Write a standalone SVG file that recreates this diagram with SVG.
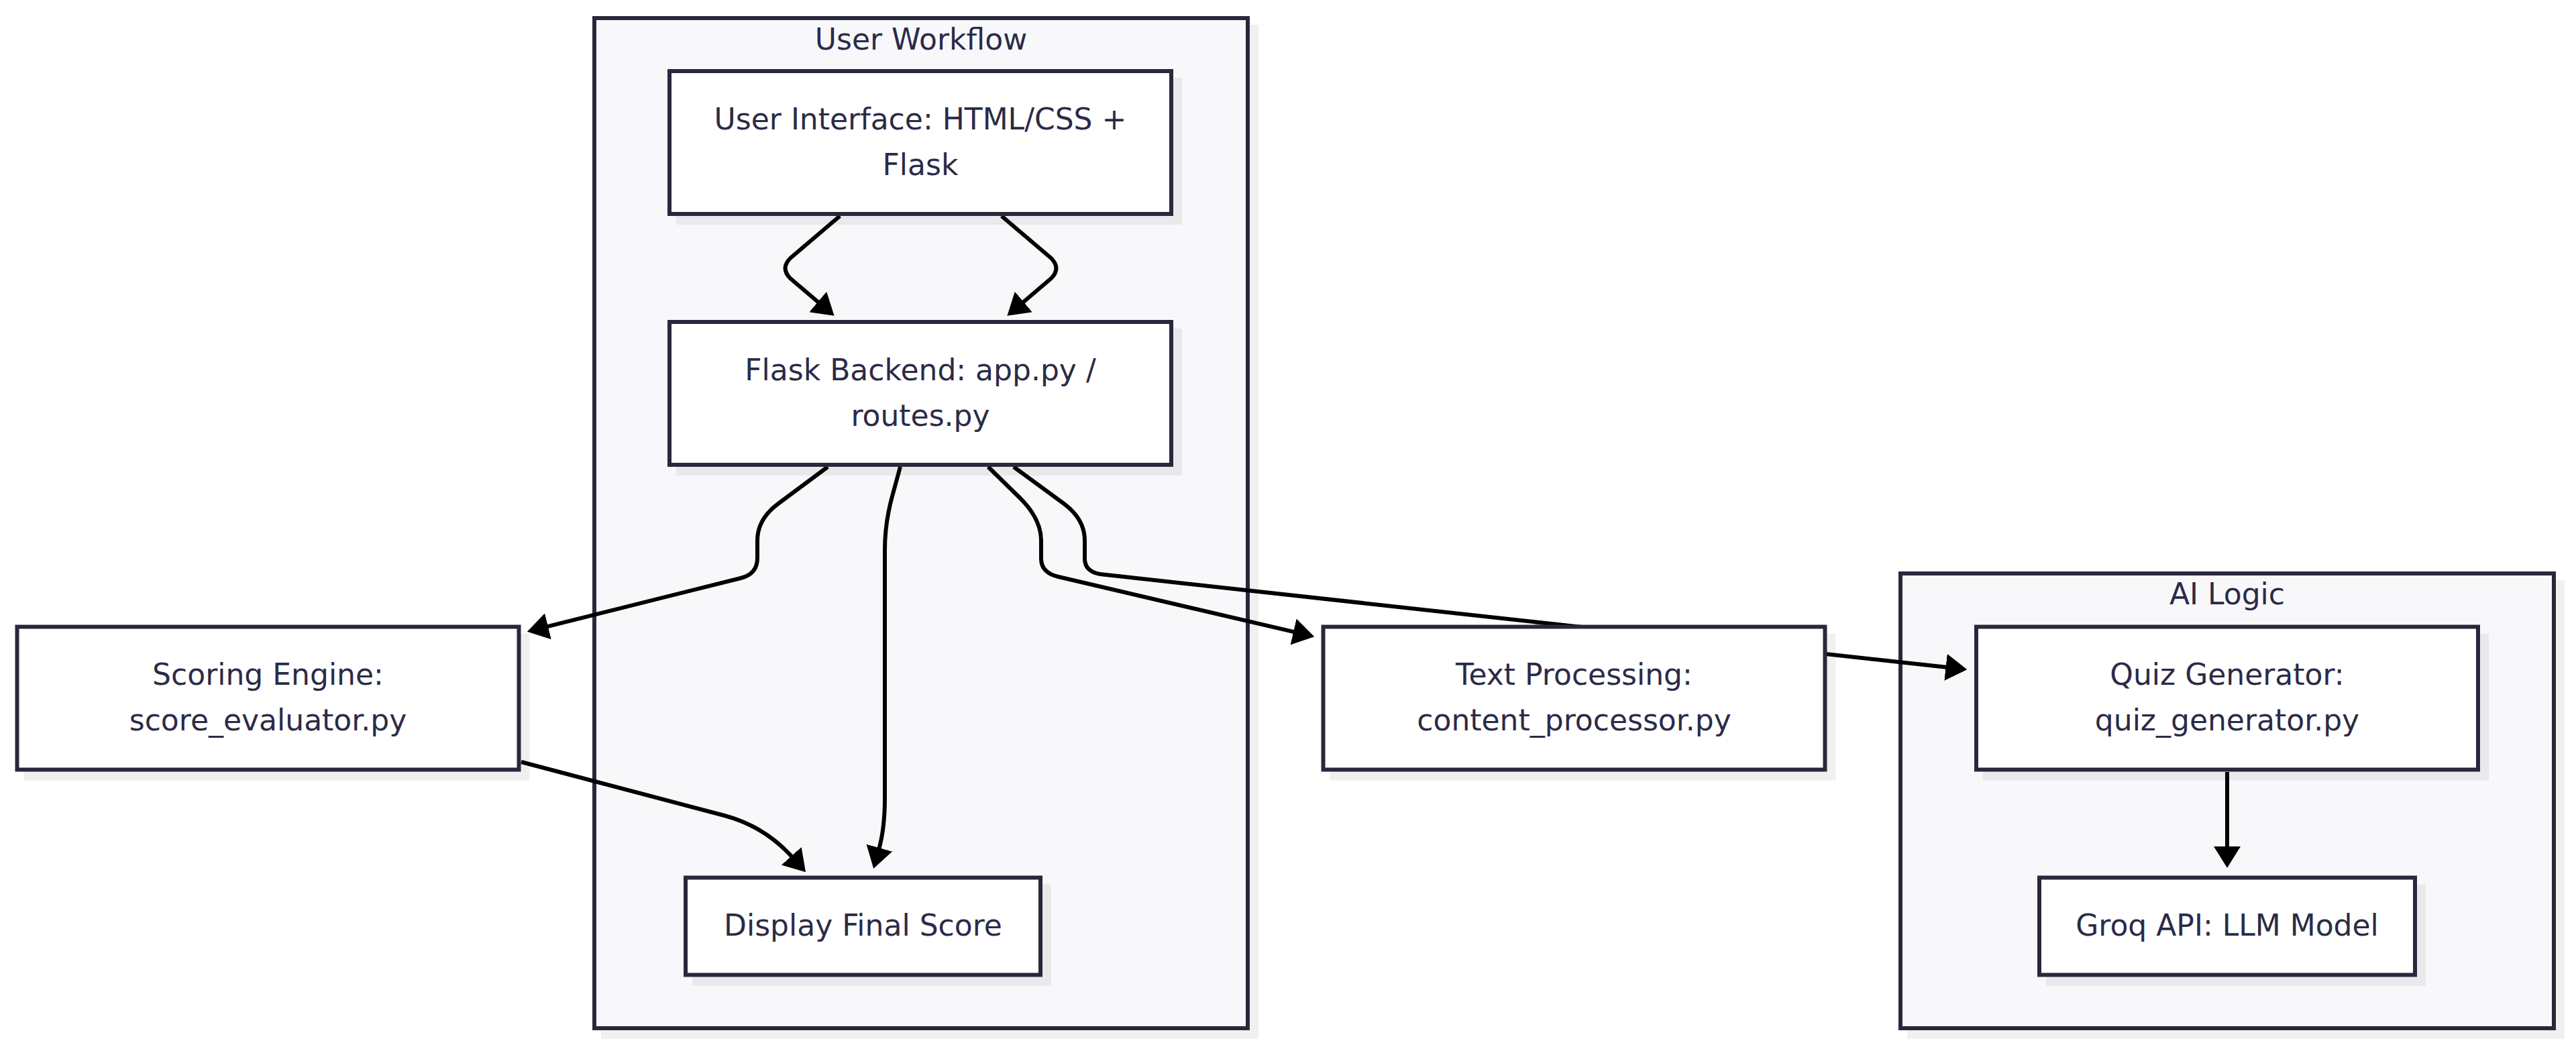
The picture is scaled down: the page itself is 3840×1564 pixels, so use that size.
<svg xmlns="http://www.w3.org/2000/svg" width="3840" height="1564" viewBox="0 0 3840 1564">
<style>
.bg{fill:#ffffff}
.cluster{fill:#f8f8fb;stroke:#28283d;stroke-width:6}
.node{fill:#ffffff;stroke:#28283d;stroke-width:6}
.shadow{fill:#000000;fill-opacity:0.06}
.lbl{font-family:"DejaVu Sans",sans-serif;font-size:44px;fill:#2b2b47;text-anchor:middle}
.edge{fill:none;stroke:#000000;stroke-width:6;stroke-linejoin:round}
</style>
<defs>
<marker id="ah" viewBox="0 0 32 40" refX="3" refY="20" markerWidth="32" markerHeight="40" orient="auto" markerUnits="userSpaceOnUse"><path d="M0,0 L32,20 L0,40 z" fill="#000000"/></marker>
</defs>
<rect class="bg" x="0" y="0" width="3840" height="1564"/>
<g id="cluster-user-workflow">
<rect class="shadow" x="896" y="37" width="980" height="1512"/>
<rect class="cluster" x="886" y="27" width="974" height="1506"/>
<text class="lbl" x="1373" y="73.5">User Workflow</text>
</g>
<g id="cluster-ai-logic">
<rect class="shadow" x="2843" y="865" width="980" height="684"/>
<rect class="cluster" x="2833" y="855" width="974" height="678"/>
<text class="lbl" x="3320" y="901">AI Logic</text>
</g>
<g id="connectors">
<path class="edge" marker-end="url(#ah)" d="M1252,322 L1178,385 Q1163,400 1178,415 L1221.5,452"/>
<path class="edge" marker-end="url(#ah)" d="M1493,322 L1567,385 Q1582,400 1567,415 L1523.5,452"/>
<path class="edge" marker-end="url(#ah)" d="M1234,696 L1160,751 Q1129,774 1129,806 L1129,832 Q1129,856 1104,862 L814,934.6"/>
<path class="edge" marker-end="url(#ah)" d="M1342,696 L1330,740 Q1319,780 1319,820 L1319,1190 Q1319,1235 1310,1267"/>
<path class="edge" marker-end="url(#ah)" d="M777,1136 L1080,1216 Q1140,1232 1181.7,1278.6"/>
<path class="edge" marker-end="url(#ah)" d="M1473,696 L1521,743 Q1552,774 1552,806 L1552,833 Q1552,854 1578,860 L1931,942.7"/>
<path class="edge" marker-end="url(#ah)" d="M1511,696 L1586,751 Q1617,774 1617,806 L1617,833 Q1617,852 1640,856 L2903.5,995.1"/>
<path class="edge" marker-end="url(#ah)" d="M3320,1151 L3320,1265"/>
</g>
<g id="node-ui">
<rect class="shadow" x="1008" y="116" width="754" height="219"/>
<rect class="node" x="998" y="106" width="748" height="213"/>
<text class="lbl" x="1372" y="192.5">User Interface: HTML/CSS +</text>
<text class="lbl" x="1372" y="260.5">Flask</text>
</g>
<g id="node-flask">
<rect class="shadow" x="1008" y="490" width="754" height="219"/>
<rect class="node" x="998" y="480" width="748" height="213"/>
<text class="lbl" x="1372" y="566.5">Flask Backend: app.py /</text>
<text class="lbl" x="1372" y="634.5">routes.py</text>
</g>
<g id="node-scoring">
<rect class="shadow" x="35.5" y="944.5" width="754" height="219"/>
<rect class="node" x="25.5" y="934.5" width="748" height="213"/>
<text class="lbl" x="399.5" y="1021">Scoring Engine:</text>
<text class="lbl" x="399.5" y="1089">score_evaluator.py</text>
</g>
<g id="node-display">
<rect class="shadow" x="1032" y="1318.5" width="535" height="151"/>
<rect class="node" x="1022" y="1308.5" width="529" height="145"/>
<text class="lbl" x="1286.5" y="1395">Display Final Score</text>
</g>
<g id="node-textproc">
<rect class="shadow" x="1982.5" y="944.5" width="754" height="219"/>
<rect class="node" x="1972.5" y="934.5" width="748" height="213"/>
<text class="lbl" x="2346.5" y="1021">Text Processing:</text>
<text class="lbl" x="2346.5" y="1089">content_processor.py</text>
</g>
<g id="node-quiz">
<rect class="shadow" x="2956" y="944.5" width="754" height="219"/>
<rect class="node" x="2946" y="934.5" width="748" height="213"/>
<text class="lbl" x="3320" y="1021">Quiz Generator:</text>
<text class="lbl" x="3320" y="1089">quiz_generator.py</text>
</g>
<g id="node-groq">
<rect class="shadow" x="3050" y="1318.5" width="566" height="151"/>
<rect class="node" x="3040" y="1308.5" width="560" height="145"/>
<text class="lbl" x="3320" y="1395">Groq API: LLM Model</text>
</g>
</svg>
